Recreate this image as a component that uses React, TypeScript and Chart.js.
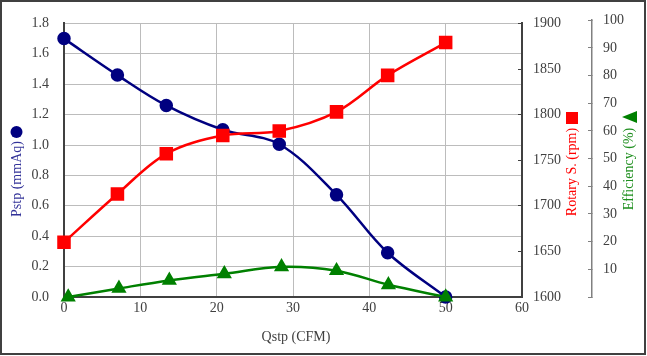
import React, { useEffect, useRef } from 'react';
import { Chart, registerables } from 'chart.js';
Chart.register(...registerables);

// Flow (CFM) for static pressure and rotary speed
const qFlow = [0, 7.0, 13.4, 20.8, 28.2, 35.7, 42.4, 50.0];
// Static pressure (mmAq)
const pstp = [1.70, 1.46, 1.26, 1.10, 1.005, 0.672, 0.291, 0.0];
// Rotary speed (rpm)
const rpm = [1660, 1713, 1757, 1777, 1782, 1803, 1843, 1879];
// Flow (CFM) for efficiency
const qEff = [0.55, 7.2, 13.8, 21.0, 28.5, 35.7, 42.5, 50.0];
// Efficiency (%)
const efficiency = [0, 3.1, 6.0, 8.4, 10.9, 9.5, 4.4, 0];

const xTitle = 'Qstp (CFM)';
const pstpTitle = 'Pstp (mmAq)';
const rpmTitle = 'Rotary S. (rpm)';
const effTitle = 'Efficiency (%)';

const FONT = '"Liberation Serif", "Times New Roman", serif';
const TICK_COLOR = '#404040';
const GRID_COLOR = '#bcbcbc';
const AXIS_COLOR = '#404040';

const toPoints = (xs: number[], ys: number[]) => xs.map((x, i) => ({ x, y: ys[i] }));

const titlePlugin = {
  id: 'customTitles',
  afterLayout(chart: any) {
    const s = chart.scales.yEff;
    if (s) {
      s.top = chart.chartArea.top - 3.2;
      s.height = s.bottom - s.top;
      s.configure();
      s._labelItemsCache = null;
      s._gridLineItems = null;
    }
  },
  afterDraw(chart: any) {
    const ctx = chart.ctx;
    ctx.save();
    ctx.font = `14px ${FONT}`;
    ctx.textAlign = 'center';
    ctx.textBaseline = 'middle';
    // x title
    ctx.fillStyle = TICK_COLOR;
    ctx.fillText(xTitle, 296, 337);

    // Pstp title
    ctx.save();
    ctx.translate(17, 179);
    ctx.rotate(-Math.PI / 2);
    ctx.fillStyle = '#333399';
    ctx.fillText(pstpTitle, 0, 0);
    ctx.restore();
    ctx.fillStyle = '#000080';
    ctx.beginPath();
    ctx.arc(16.5, 132, 6, 0, Math.PI * 2);
    ctx.fill();

    // Rotary title
    ctx.save();
    ctx.translate(572, 172);
    ctx.rotate(-Math.PI / 2);
    ctx.fillStyle = '#ff0000';
    ctx.fillText(rpmTitle, 0, 0);
    ctx.restore();
    ctx.fillStyle = '#ff0000';
    ctx.fillRect(566, 112, 12, 12);

    // Efficiency title
    ctx.save();
    ctx.translate(629, 169);
    ctx.rotate(-Math.PI / 2);
    ctx.fillStyle = '#1f8f1f';
    ctx.fillText(effTitle, 0, 0);
    ctx.restore();
    ctx.fillStyle = '#008000';
    ctx.beginPath();
    ctx.moveTo(622, 117);
    ctx.lineTo(637, 111);
    ctx.lineTo(637, 123);
    ctx.closePath();
    ctx.fill();
    ctx.restore();
  },
};

export default function App() {
  const ref = useRef<HTMLCanvasElement | null>(null);
  useEffect(() => {
    if (!ref.current) return;
    const tickFont = { family: FONT, size: 14 };
    const chart = new Chart(ref.current, {
      type: 'line',
      data: {
        datasets: [
          {
            label: 'Pstp',
            data: toPoints(qFlow, pstp),
            yAxisID: 'y',
            borderColor: '#000080',
            backgroundColor: '#000080',
            pointBackgroundColor: '#000080',
            pointBorderColor: '#000080',
            pointStyle: 'circle',
            pointRadius: 5.5,
            borderWidth: 2.5,
            tension: 0.35,
            clip: false,
            order: 3,
          },
          {
            label: 'Rotary',
            data: toPoints(qFlow, rpm),
            yAxisID: 'yRpm',
            borderColor: '#ff0000',
            backgroundColor: '#ff0000',
            pointBackgroundColor: '#ff0000',
            pointBorderColor: '#ff0000',
            pointStyle: 'rect',
            pointRadius: 7.8,
            borderWidth: 2.5,
            tension: 0.35,
            clip: false,
            order: 2,
          },
          {
            label: 'Efficiency',
            data: toPoints(qEff, efficiency),
            yAxisID: 'yEff',
            borderColor: '#008000',
            backgroundColor: '#008000',
            pointBackgroundColor: '#008000',
            pointBorderColor: '#008000',
            pointStyle: 'triangle',
            pointRadius: 6.3,
            borderWidth: 2.5,
            tension: 0.35,
            clip: false,
            order: 1,
          },
        ] as any,
      },
      options: {
        animation: false,
        responsive: false,
        maintainAspectRatio: false,
        layout: { padding: { top: 19, left: 0, right: 0, bottom: 0 } },
        plugins: { legend: { display: false }, tooltip: { enabled: false } },
        scales: {
          x: {
            type: 'linear',
            min: 0,
            max: 60,
            ticks: { stepSize: 10, color: TICK_COLOR, font: tickFont, padding: 3, maxRotation: 0 },
            grid: { color: GRID_COLOR, drawTicks: false, lineWidth: 1 },
            border: { color: AXIS_COLOR, width: 2 },
            afterFit: (s: any) => { s.height = 59; },
          },
          y: {
            type: 'linear',
            position: 'left',
            min: 0,
            max: 1.8,
            ticks: {
              stepSize: 0.2,
              color: TICK_COLOR,
              font: tickFont,
              padding: 15,
              callback: (v: any) => Number(v).toFixed(1),
            },
            grid: { color: GRID_COLOR, drawTicks: false, lineWidth: 1 },
            border: { color: AXIS_COLOR, width: 2 },
            afterFit: (s: any) => { s.width = 64; },
          },
          yRpm: {
            type: 'linear',
            position: 'right',
            weight: 0,
            min: 1600,
            max: 1900,
            ticks: {
              stepSize: 50,
              color: TICK_COLOR,
              font: tickFont,
              padding: 15,
              callback: (v: any) => String(Math.round(Number(v))),
            },
            grid: { drawOnChartArea: false, color: AXIS_COLOR, tickLength: -4, lineWidth: 1 },
            border: { color: AXIS_COLOR, width: 2 },
            afterFit: (s: any) => { s.width = 70; },
          },
          yEff: {
            type: 'linear',
            position: 'right',
            weight: 1,
            min: 0,
            max: 100,
            ticks: {
              stepSize: 10,
              color: TICK_COLOR,
              font: tickFont,
              padding: 15,
              callback: (v: any) => (Number(v) === 0 ? '' : String(v)),
            },
            grid: { drawOnChartArea: false, color: '#808080', tickLength: -4, lineWidth: 1 },
            border: { color: '#808080', width: 1.5 },
            afterFit: (s: any) => { s.width = 55; },
          },
        } as any,
      },
      plugins: [titlePlugin as any],
    });
    return () => chart.destroy();
  }, []);

  return (
    <div style={{ position: 'absolute', left: 0, top: 0, width: 647, height: 356, background: '#fff' }}>
      <canvas ref={ref} width={647} height={356} style={{ display: 'block', width: 647, height: 356 }} />
      <div
        style={{
          position: 'absolute',
          left: 0,
          top: 0,
          width: 646,
          height: 355,
          boxSizing: 'border-box',
          border: '2px solid #404040',
          pointerEvents: 'none',
        }}
      />
    </div>
  );
}
